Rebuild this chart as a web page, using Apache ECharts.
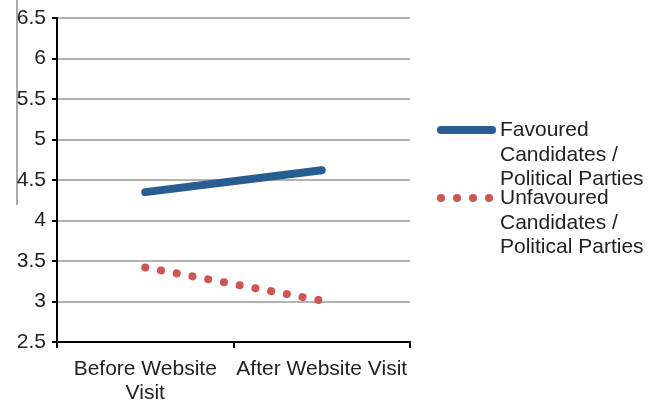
<!DOCTYPE html>
<html>
<head>
<meta charset="utf-8">
<script src="https://cdn.jsdelivr.net/npm/echarts@6/dist/echarts.min.js"></script>
<style>
  html, body { margin: 0; padding: 0; background: #fff; }
  #chart { width: 656px; height: 405px; }
</style>
</head>
<body>
<div id="chart"></div>
<script>
const categories = ['Before Website\nVisit', 'After Website Visit'];
const favouredValues = [4.35, 4.62];
const unfavouredValues = [3.42, 3.01];
const seriesNames = [
  'Favoured\nCandidates /\nPolitical Parties',
  'Unfavoured\nCandidates /\nPolitical Parties'
];

const BLUE = '#285d92';
const RED = '#cf5552';
const FONT = '"Liberation Sans", Arial, sans-serif';

const chart = echarts.init(document.getElementById('chart'), null, { renderer: 'canvas' });

const legendText = (text, y) => ({
  type: 'text',
  left: 500,
  top: y,
  style: { text: text, font: '21px ' + FONT, fill: '#222', lineHeight: 24.5 }
});

const option = {
  backgroundColor: '#fff',
  animation: false,
  grid: { left: 57, right: 246, top: 18, bottom: 63 },
  xAxis: {
    type: 'category',
    data: categories,
    boundaryGap: true,
    axisLine: { lineStyle: { color: '#000', width: 2 } },
    axisTick: { show: true, interval: 0, length: 6, lineStyle: { color: '#000', width: 2 } },
    axisLabel: {
      color: '#222', fontSize: 21, fontFamily: FONT, margin: 15, lineHeight: 24,
      interval: 0, hideOverlap: false
    },
    splitLine: { show: false }
  },
  yAxis: {
    type: 'value',
    min: 2.5,
    max: 6.5,
    interval: 0.5,
    axisLine: { show: true, lineStyle: { color: '#000', width: 2 } },
    axisTick: { show: true, length: 5, lineStyle: { color: '#000', width: 2 } },
    axisLabel: { color: '#222', fontSize: 21, fontFamily: FONT, margin: 11 },
    splitLine: { show: true, lineStyle: { color: '#9a9a9a', width: 1.5 } }
  },
  series: [
    {
      name: seriesNames[0],
      type: 'line',
      data: favouredValues,
      symbol: 'none',
      lineStyle: { color: BLUE, width: 8, cap: 'round' },
      z: 3
    },
    {
      name: seriesNames[1],
      type: 'line',
      data: unfavouredValues,
      symbol: 'none',
      lineStyle: { color: RED, width: 8, type: [0.01, 16], cap: 'round' },
      z: 3
    }
  ],
  graphic: [
    { type: 'line', shape: { x1: 17, y1: 0, x2: 17, y2: 205 }, style: { stroke: '#555', lineWidth: 1 } },
    { type: 'line', shape: { x1: 441, y1: 130, x2: 492, y2: 130 }, style: { stroke: BLUE, lineWidth: 8, lineCap: 'round' } },
    legendText(seriesNames[0], 118),
    { type: 'circle', shape: { cx: 441, cy: 198, r: 4 }, style: { fill: RED } },
    { type: 'circle', shape: { cx: 457, cy: 198, r: 4 }, style: { fill: RED } },
    { type: 'circle', shape: { cx: 473, cy: 198, r: 4 }, style: { fill: RED } },
    { type: 'circle', shape: { cx: 489, cy: 198, r: 4 }, style: { fill: RED } },
    legendText(seriesNames[1], 186)
  ]
};

chart.setOption(option);
</script>
</body>
</html>
